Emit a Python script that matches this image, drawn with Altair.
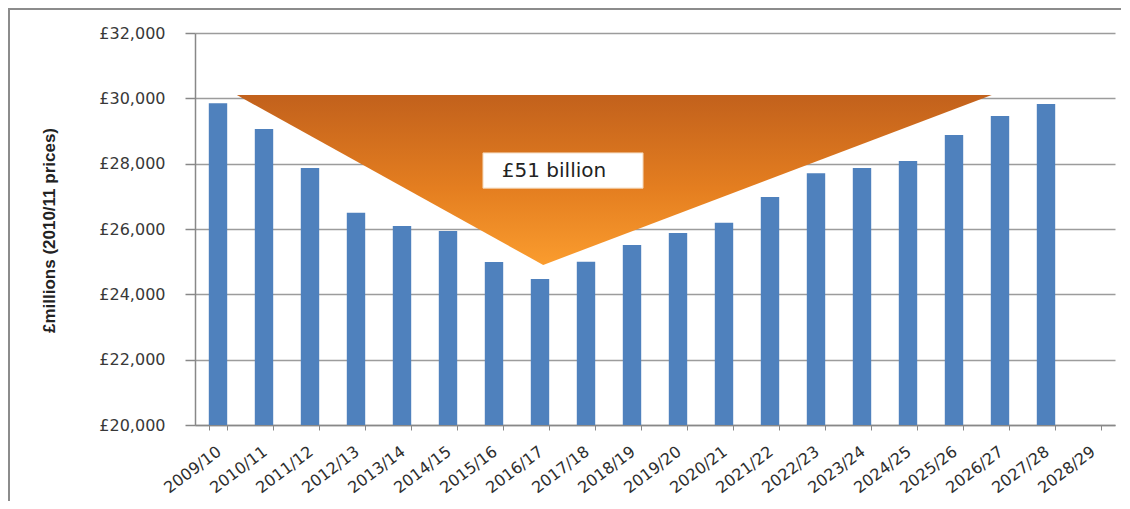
import altair as alt
import pandas as pd

# ---- data ----
years = ["2009/10", "2010/11", "2011/12", "2012/13", "2013/14", "2014/15", "2015/16",
         "2016/17", "2017/18", "2018/19", "2019/20", "2020/21", "2021/22", "2022/23",
         "2023/24", "2024/25", "2025/26", "2026/27", "2027/28", "2028/29"]
spend = [29850, 29060, 27870, 26500, 26090, 25940, 24990,
         24470, 25000, 25510, 25880, 26190, 26980, 27710,
         27870, 28080, 28880, 29460, 29830, None]

# annotation triangle (x in category-index units, y in £m)
tri_x = [0.91, 7.57, 17.32]
tri_top = [30100, 30100, 30100]
tri_bottom = [30100, 24900, 30100]

# annotation label box
label_text = ["£51 billion"]
box_x = [6.26]
box_x2 = [9.74]
box_y = [28330]
box_y2 = [27250]
text_x = [6.67]
text_y = [27780]

y_ticks = [20000, 22000, 24000, 26000, 28000, 30000, 32000]

W, H = 920, 392

bars_df = pd.DataFrame({"year": years, "spend": spend})
tri_df = pd.DataFrame({"x": tri_x, "top": tri_top, "bottom": tri_bottom})
box_df = pd.DataFrame({"x": box_x, "x2": box_x2, "y": box_y, "y2": box_y2,
                       "tx": text_x, "ty": text_y, "label": label_text})

yscale = alt.Scale(domain=[20000, 32000], zero=False, nice=False)
xq = alt.Scale(domain=[0, len(years)], nice=False, zero=False)

bars = alt.Chart(bars_df).mark_bar(color="#4F81BD").encode(
    x=alt.X("year:N", sort=years,
            scale=alt.Scale(domain=years, paddingInner=0.6, paddingOuter=0.3),
            axis=alt.Axis(title=None, labelAngle=-37, labelFont="DejaVu Sans",
                          labelFontSize=16, labelColor="#2e2e2e", labelPadding=13,
                          labelOffset=-4,
                          tickBand="extent", tickSize=5, tickColor="#888888",
                          domainColor="#888888", domainWidth=1.5, grid=False)),
    y=alt.Y("spend:Q", scale=yscale,
            axis=alt.Axis(values=y_ticks,
                          labelExpr="'£' + format(datum.value, ',')",
                          labelFont="DejaVu Sans", labelFontSize=16,
                          labelColor="#383838", labelPadding=20,
                          tickSize=10, tickColor="#888888", tickWidth=1.5,
                          domainColor="#888888", domainWidth=1.5,
                          gridColor="#9c9c9c", gridWidth=1.5,
                          title="£millions (2010/11 prices)",
                          titleFont="Liberation Sans", titleFontSize=17,
                          titleFontWeight="bold", titleColor="#222222",
                          titleX=-137, titleY=197)),
    y2=alt.datum(20000),
)

grad = alt.Gradient(
    gradient="linear",
    stops=[alt.GradientStop(color="#C2611C", offset=0),
           alt.GradientStop(color="#E47E20", offset=0.55),
           alt.GradientStop(color="#FA9C2E", offset=1)],
    x1=0, x2=0, y1=0, y2=1,
)

triangle = alt.Chart(tri_df).mark_area(color=grad, opacity=1, interpolate="linear").encode(
    x=alt.X("x:Q", scale=xq, axis=None),
    y=alt.Y("top:Q", scale=yscale),
    y2="bottom:Q",
)

box = alt.Chart(box_df).mark_rect(fill="white", stroke="#f3d3b0", strokeWidth=1).encode(
    x=alt.X("x:Q", scale=xq, axis=None),
    x2="x2:Q",
    y=alt.Y("y:Q", scale=yscale),
    y2="y2:Q",
)

label = alt.Chart(box_df).mark_text(align="left", baseline="middle", font="DejaVu Sans",
                                    fontSize=20, color="#222222").encode(
    x=alt.X("tx:Q", scale=xq, axis=None),
    y=alt.Y("ty:Q", scale=yscale),
    text="label:N",
)

one = pd.DataFrame({"k": [0]})
frame_top = alt.Chart(one).mark_rule(color="#8c8c8c", strokeWidth=2).encode(
    x=alt.value(-187), x2=alt.value(930), y=alt.value(-24))
frame_left = alt.Chart(one).mark_rule(color="#8c8c8c", strokeWidth=2).encode(
    x=alt.value(-186), y=alt.value(-25), y2=alt.value(480))

chart = alt.layer(bars, triangle, box, label, frame_top, frame_left).resolve_scale(
    x="independent"
).properties(
    width=W, height=H,
    autosize=alt.AutoSizeParams(type="none"),
    padding={"left": 187, "top": 25, "right": 6, "bottom": 76},
    background="white",
).configure_view(stroke=None)

chart.save("out.html", embed_options={"renderer": "svg", "actions": False})
